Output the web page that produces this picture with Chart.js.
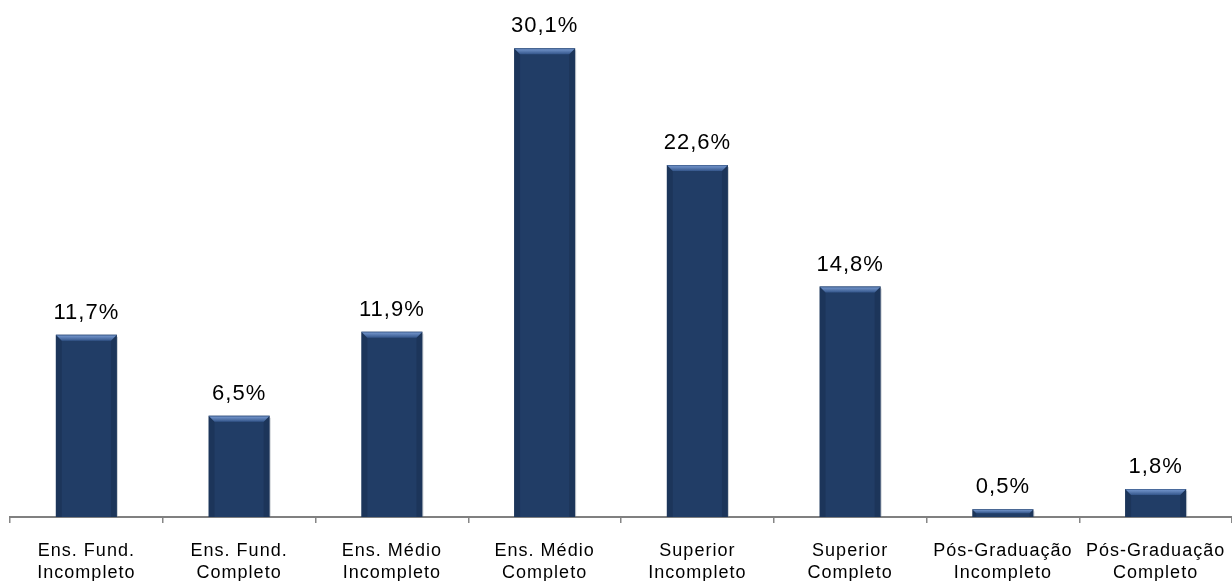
<!DOCTYPE html>
<html>
<head>
<meta charset="utf-8">
<script src="https://cdn.jsdelivr.net/npm/chart.js@4/dist/chart.umd.min.js"></script>
<style>
  html, body { margin: 0; padding: 0; background: #fff; }
  #wrap { width: 1232px; height: 581px; overflow: hidden; }
</style>
</head>
<body>
<div id="wrap"><canvas id="myChart" width="1232" height="601"></canvas></div>
<script>
// escolaridade - distribuição (%)
const categorias = [
    ['Ens. Fund.', 'Incompleto'],
    ['Ens. Fund.', 'Completo'],
    ['Ens. Médio', 'Incompleto'],
    ['Ens. Médio', 'Completo'],
    ['Superior', 'Incompleto'],
    ['Superior', 'Completo'],
    ['Pós-Graduação', 'Incompleto'],
    ['Pós-Graduação', 'Completo']
];
const valores = [11.7, 6.5, 11.9, 30.1, 22.6, 14.8, 0.5, 1.8];

const corBarra = '#213d66';

// letter spacing like the original rendering
const spacing = {
    id: 'spacing',
    beforeDraw(chart) {
        chart.ctx.letterSpacing = '1px';
    }
};

// bevel on top of each bar + soft edges
const bevel = {
    id: 'bevel',
    afterDatasetsDraw(chart) {
        const ctx = chart.ctx;
        chart.getDatasetMeta(0).data.forEach(bar => {
            const l = bar.x - bar.width / 2;
            const r = bar.x + bar.width / 2;
            const t = bar.y;
            const b = bar.base;
            const h = b - t;
            const bv = Math.min(6, h / 2);
            ctx.save();
            // right shadow
            ctx.fillStyle = 'rgba(110,120,135,0.35)';
            ctx.fillRect(r, t + 2, 1, h - 2);
            // sides, a little darker
            ctx.fillStyle = 'rgba(15,30,55,0.25)';
            ctx.beginPath();
            ctx.moveTo(l, t);
            ctx.lineTo(l + bv, t + bv);
            ctx.lineTo(l + bv, b);
            ctx.lineTo(l, b);
            ctx.closePath();
            ctx.fill();
            ctx.beginPath();
            ctx.moveTo(r, t);
            ctx.lineTo(r - bv, t + bv);
            ctx.lineTo(r - bv, b);
            ctx.lineTo(r, b);
            ctx.closePath();
            ctx.fill();
            // top bevel
            const g = ctx.createLinearGradient(0, t, 0, t + bv);
            g.addColorStop(0, '#3c5c8c');
            g.addColorStop(0.25, '#6a8cc2');
            g.addColorStop(1, '#33558a');
            ctx.fillStyle = g;
            ctx.beginPath();
            ctx.moveTo(l, t);
            ctx.lineTo(r, t);
            ctx.lineTo(r - bv, t + bv);
            ctx.lineTo(l + bv, t + bv);
            ctx.closePath();
            ctx.fill();
            ctx.restore();
        });
    }
};

// value labels above bars
const rotulos = {
    id: 'rotulos',
    afterDatasetsDraw(chart) {
        const ctx = chart.ctx;
        ctx.save();
        ctx.font = '22px "Liberation Sans", Arial, sans-serif';
        ctx.fillStyle = '#000';
        ctx.textAlign = 'center';
        ctx.textBaseline = 'alphabetic';
        chart.getDatasetMeta(0).data.forEach((bar, i) => {
            const txt = valores[i].toFixed(1).replace('.', ',') + '%';
            ctx.fillText(txt, bar.x, bar.y - 16);
        });
        ctx.restore();
    }
};

const ctx = document.getElementById('myChart').getContext('2d');
const myChart = new Chart(ctx, {
    type: 'bar',
    data: {
        labels: categorias,
        datasets: [{
            data: valores,
            backgroundColor: corBarra,
            borderWidth: 0,
            barPercentage: 0.4,
            categoryPercentage: 1
        }]
    },
    options: {
        responsive: false,
        animation: false,
        layout: { padding: { left: 10, right: 0, top: 0, bottom: 0 } },
        plugins: {
            legend: { display: false },
            tooltip: { enabled: false }
        },
        scales: {
            x: {
                offset: true,
                afterFit(scale) {
                    // labels may run to the edge, like the original
                    scale.paddingLeft = 0;
                    scale.paddingRight = 0;
                },
                grid: {
                    display: true,
                    offset: true,
                    drawOnChartArea: false,
                    drawTicks: true,
                    tickLength: 6,
                    color: '#868686',
                    lineWidth: 1.5
                },
                border: { display: true, color: '#808080', width: 2 },
                ticks: {
                    color: '#000',
                    padding: 17,
                    maxRotation: 0,
                    autoSkip: false,
                    font: { family: '"Liberation Sans", Arial, sans-serif', size: 18, lineHeight: 1.22 }
                }
            },
            y: {
                display: false,
                min: 0,
                max: 33.2
            }
        }
    },
    plugins: [spacing, bevel, rotulos]
});
</script>
</body>
</html>
